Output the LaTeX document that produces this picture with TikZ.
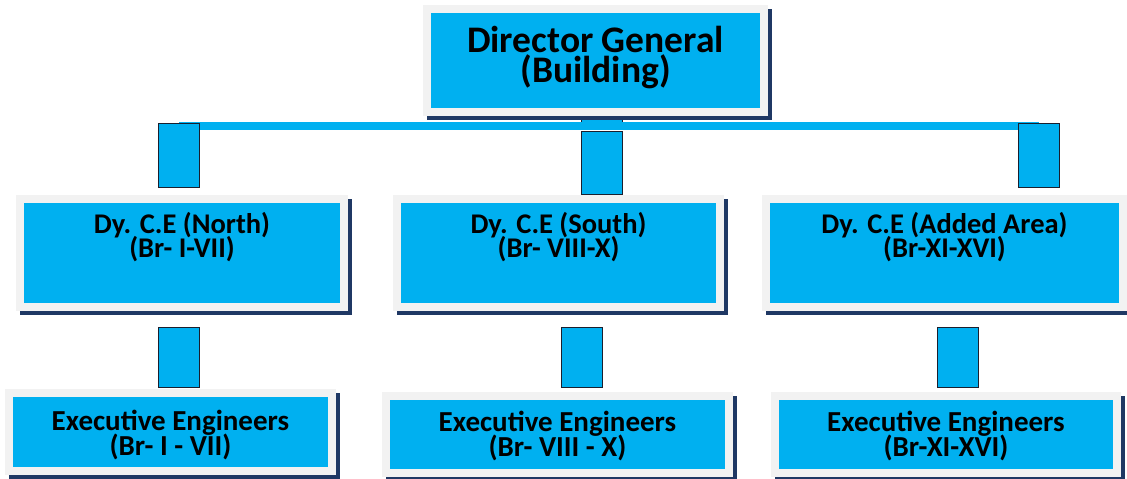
\documentclass[tikz,border=0pt]{standalone}
\usepackage{fontspec}
\setmainfont{Carlito}
\usetikzlibrary{positioning,backgrounds}

\definecolor{boxblue}{HTML}{00B0F0}
\definecolor{framegray}{HTML}{F2F2F2}
\definecolor{shadownavy}{HTML}{1F3864}
\definecolor{linkedge}{HTML}{1A1F2E}

\newcommand{\tightlines}{\setlength{\lineskiplimit}{-30pt}}

\tikzset{
  post/.style={rectangle, inner sep=0pt, fill=boxblue, draw=framegray, line width=8pt,
    preaction={fill=shadownavy, draw=shadownavy, line width=8pt,
      transform canvas={xshift=4pt, yshift=-4pt}}},
  toptitle/.style={inner sep=0pt, align=center,
    font=\bfseries\fontsize{37.5}{30}\selectfont\tightlines},
  midtitle/.style={inner sep=0pt, align=center,
    font=\bfseries\fontsize{28.5}{24}\selectfont\tightlines},
  lowtitle/.style={inner sep=0pt, align=center,
    font=\bfseries\fontsize{29}{25}\selectfont\tightlines},
  link/.style 2 args={draw=linkedge, line width=42pt, shorten <=#1, shorten >=#2,
    postaction={draw=boxblue, line width=40pt, shorten <=#1+1pt, shorten >=#2+1pt}},
  hub/.style={draw=boxblue, line width=8pt}
}

\begin{document}
\begin{tikzpicture}[x=1pt, y=-1pt]
    \useasboundingbox (0,0) rectangle (1127,479);
    % the boxes
    \node[post, minimum width=337pt, minimum height=103pt] (dg) at (595.5,60.5) {};
    \node[post, minimum width=324pt, minimum height=108pt] (north) at (182,253) {};
    \node[post, minimum width=323pt, minimum height=108pt] (south) at (558.5,253) {};
    \node[post, minimum width=357pt, minimum height=108pt] (added) at (944.5,253) {};
    \node[post, minimum width=323pt, minimum height=78pt] (ee1) at (170.5,432) {};
    \node[post, minimum width=343pt, minimum height=77pt] (ee2) at (557.5,434.5) {};
    \node[post, minimum width=342pt, minimum height=77pt] (ee3) at (946,434.5) {};
    % the texts
    \node[toptitle, below=21pt of dg.north] (dgtext) {Director General\\(Building)};
    \node[midtitle, below=17pt of north.north] (northtext) {Dy. C.E (North)\\(Br- I-VII)};
    \node[midtitle, below=17pt of south.north] (southtext) {Dy. C.E (South)\\(Br- VIII-X)};
    \node[midtitle, below=17pt of added.north] (addedtext) {Dy. C.E (Added Area)\\(Br-XI-XVI)};
    \node[lowtitle, below=21pt of ee1.north] (ee1text) {Executive Engineers\\(Br- I - VII)};
    \node[lowtitle, below=19pt of ee2.north] (ee2text) {Executive Engineers\\(Br- VIII - X)};
    \node[lowtitle, below=19pt of ee3.north] (ee3text) {Executive Engineers\\(Br-XI-XVI)};
    % the hub where the links meet
    \coordinate (barL) at (179,126);
    \coordinate (barM) at (602,126);
    \coordinate (barR) at (1039,126);
    % draw the links behind the boxes
    \begin{scope}[on background layer]
        \draw[link={0pt}{0pt}] (dg.south -| barM) -- ([yshift=3pt]barM);
        \draw[hub] (barL) -- (barR);
        \draw[link={0pt}{7pt}] ([yshift=3pt]barL) -- (barL |- north.north);
        \draw[link={0pt}{7pt}] ([yshift=3pt]barR) -- (barR |- added.north);
        \draw[link={16pt}{1pt}] ([xshift=-3pt]north.south) -- ([xshift=-3pt]north.south |- ee1.north);
        \draw[link={16pt}{4pt}] ([xshift=23.5pt]south.south) -- ([xshift=23.5pt]south.south |- ee2.north);
        \draw[link={16pt}{4pt}] ([xshift=13pt]added.south) -- ([xshift=13pt]added.south |- ee3.north);
    \end{scope}
    \draw[link={0pt}{0pt}] ([yshift=-5pt]barM) -- (barM |- south.north);
\end{tikzpicture}
\end{document}
